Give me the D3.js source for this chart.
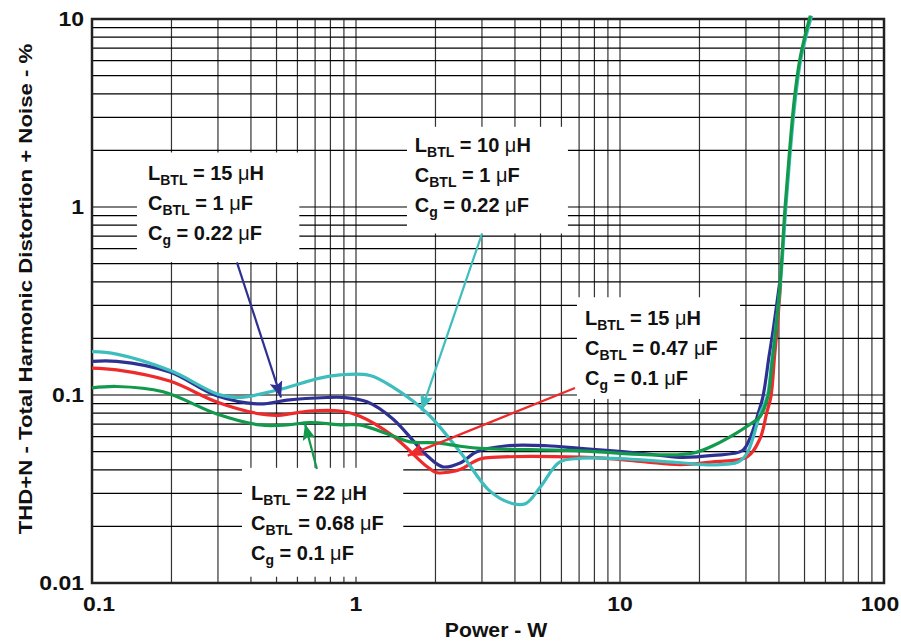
<!DOCTYPE html>
<html>
<head>
<meta charset="utf-8">
<script src="https://cdn.jsdelivr.net/npm/d3@7"></script>
<style>
  body { margin: 0; background: #fff; }
  text { font-family: "Liberation Sans", Arial, sans-serif; font-weight: bold; fill: #111; }
</style>
</head>
<body>
<div id="chart"></div>
<script>
var width = 901;
var height = 643;

// tick labels
var xTicks = [0.1, 1, 10, 100];
var xTickLabels = ["0.1", "1", "10", "100"];
var yTicks = [0.01, 0.1, 1, 10];
var yTickLabels = ["0.01", "0.1", "1", "10"];

// THD+N (%) vs power (W)
var thdRed = [[0.1,0.139],[0.124,0.136],[0.197,0.1186],[0.297,0.0918],[0.433,0.0793],[0.51,0.078],[0.67,0.0822],[0.87,0.0822],[1.03,0.0774],[1.38,0.0606],[1.86,0.0415],[2.03,0.0386],[2.27,0.039],[2.48,0.0402],[2.95,0.0457],[3.42,0.0467],[7.05,0.0467],[9.4,0.0457],[12.5,0.0441],[16.9,0.0426],[22.5,0.0441],[30.3,0.0469],[33.9,0.0585],[36.0,0.081],[37.3,0.098],[38.5,0.161],[39.3,0.22],[40.6,0.39]];
var thdBlue = [[0.1,0.151],[0.124,0.151],[0.197,0.1325],[0.297,0.099],[0.433,0.0896],[0.548,0.094],[0.776,0.097],[0.893,0.097],[1.10,0.092],[1.38,0.0746],[1.86,0.0475],[2.13,0.0415],[2.48,0.0435],[2.87,0.0499],[3.73,0.0537],[5.29,0.0537],[7.05,0.052],[9.4,0.0505],[12.5,0.0487],[16.9,0.0466],[22.5,0.0477],[29.0,0.0505],[31.0,0.0585],[33.4,0.08],[34.8,0.098],[36.7,0.161],[38.0,0.22],[40.2,0.39]];
var thdGreen = [[0.1,0.109],[0.124,0.111],[0.186,0.104],[0.297,0.0793],[0.433,0.0693],[0.548,0.0693],[0.67,0.0714],[0.89,0.0693],[1.03,0.0693],[1.38,0.0606],[1.6,0.0563],[2.03,0.0556],[2.48,0.0534],[2.95,0.052],[7.05,0.0505],[12.5,0.0482],[16.9,0.0482],[19.6,0.0497],[22.5,0.0537],[26.8,0.0612],[31.0,0.0697],[33.9,0.0767],[36.3,0.0976],[37.7,0.148],[38.9,0.22],[40.4,0.39],[42.2,1.0],[43.9,2.0],[45.7,3.7],[47.9,6.0],[50.4,8.3],[52.6,10.4]];
var thdCyan = [[0.1,0.170],[0.124,0.165],[0.2,0.134],[0.3,0.101],[0.36,0.097],[0.5,0.106],[0.73,0.123],[0.87,0.128],[1.13,0.127],[1.38,0.110],[1.86,0.080],[2.5,0.049],[3.2,0.031],[3.9,0.0265],[4.4,0.0265],[5.0,0.0325],[5.9,0.044],[7.0,0.046],[9.4,0.046],[17,0.0436],[22.5,0.0425],[28,0.044],[30.3,0.049],[34,0.080],[36.1,0.098],[37.5,0.148],[38.8,0.22],[40.5,0.39],[42.5,1.0],[44.2,2.0],[46.1,3.7],[48.3,6.0],[50.9,8.3],[53.2,10.4]];

// annotations: box [x0, x1, y0, y1], text anchor, arrow [tail, tip] in data units
var notes = [
  { color: "#2e3192", box: [0.148, 0.61, 1.95, 0.51], at: [0.163, 1.40],
    lines: [["L", "BTL", " = 15 ", "H"], ["C", "BTL", " = 1 ", "F"], ["C", "g", " = 0.22 ", "F"]],
    arrow: [[0.354, 0.508], [0.52, 0.097]] },
  { color: "#3dbdbd", box: [1.56, 6.35, 2.67, 0.723], at: [1.67, 1.95],
    lines: [["L", "BTL", " = 10 ", "H"], ["C", "BTL", " = 1 ", "F"], ["C", "g", " = 0.22 ", "F"]],
    arrow: [[3.0, 0.72], [1.77, 0.0826]] },
  { color: "#ee2a2a", box: [6.87, 28.5, 0.331, 0.0953], at: [7.37, 0.236],
    lines: [["L", "BTL", " = 15 ", "H"], ["C", "BTL", " = 0.47 ", "F"], ["C", "g", " = 0.1 ", "F"]],
    arrow: [[6.75, 0.109], [1.57, 0.0476]] },
  { color: "#12994c", box: [0.37, 1.51, 0.041, 0.0108], at: [0.40, 0.0277],
    lines: [["L", "BTL", " = 22 ", "H"], ["C", "BTL", " = 0.68 ", "F"], ["C", "g", " = 0.1 ", "F"]],
    arrow: [[0.711, 0.0404], [0.641, 0.0702]] }
];

var svg = d3.select("#chart")
  .append("svg")
  .attr("width", width)
  .attr("height", height)

var x = d3.scaleLog().domain([0.1, 100]).range([92, 884]);
var y = d3.scaleLog().domain([0.01, 10]).range([583, 19]);

// grid values: 1..9 in each decade
function gridVals(lo, hi) {
  var out = [];
  for (var p = lo; p < hi; p *= 10) {
    for (var k = 1; k < 10; k++) out.push(p * k);
  }
  out.push(hi);
  return out;
}

svg.append("g")
  .selectAll("line")
  .data(gridVals(0.1, 100))
  .join("line")
    .attr("x1", d => x(d)).attr("x2", d => x(d))
    .attr("y1", y(10)).attr("y2", y(0.01))
    .attr("stroke", "#333")
    .attr("stroke-width", 1.2)

svg.append("g")
  .selectAll("line")
  .data(gridVals(0.01, 10))
  .join("line")
    .attr("x1", x(0.1)).attr("x2", x(100))
    .attr("y1", d => y(d)).attr("y2", d => y(d))
    .attr("stroke", "#000")
    .attr("stroke-width", 1.2)

// white label boxes hide the grid
svg.append("g")
  .selectAll("rect")
  .data(notes)
  .join("rect")
    .attr("x", d => x(d.box[0]))
    .attr("y", d => y(d.box[2]))
    .attr("width", d => x(d.box[1]) - x(d.box[0]))
    .attr("height", d => y(d.box[3]) - y(d.box[2]))
    .attr("fill", "#fff")

// frame
svg.append("rect")
  .attr("x", x(0.1)).attr("y", y(10))
  .attr("width", x(100) - x(0.1))
  .attr("height", y(0.01) - y(10))
  .attr("fill", "none")
  .attr("stroke", "#222")
  .attr("stroke-width", 2.5)

// curves
var line = d3.line()
  .x(d => x(d[0]))
  .y(d => y(d[1]))
  .curve(d3.curveCatmullRom.alpha(0.5))

var series = [
  { data: thdRed, color: "#ee2a2a" },
  { data: thdBlue, color: "#2e3192" },
  { data: thdCyan, color: "#3dbdbd" },
  { data: thdGreen, color: "#12994c" }
];

svg.append("g")
  .selectAll("path")
  .data(series)
  .join("path")
    .attr("d", d => line(d.data))
    .attr("fill", "none")
    .attr("stroke", d => d.color)
    .attr("stroke-width", 3.2)
    .attr("stroke-linejoin", "round")

// arrows
var defs = svg.append("defs");
notes.forEach(function(n, i) {
  defs.append("marker")
    .attr("id", "head" + i)
    .attr("markerUnits", "userSpaceOnUse")
    .attr("markerWidth", 17).attr("markerHeight", 13)
    .attr("refX", 16).attr("refY", 6.5)
    .attr("orient", "auto")
    .append("path")
      .attr("d", "M0,0 L16,6.5 L0,13 L3,6.5 z")
      .attr("fill", n.color)
});

svg.append("g")
  .selectAll("line")
  .data(notes)
  .join("line")
    .attr("x1", d => x(d.arrow[0][0])).attr("y1", d => y(d.arrow[0][1]))
    .attr("x2", d => x(d.arrow[1][0])).attr("y2", d => y(d.arrow[1][1]))
    .attr("stroke", d => d.color)
    .attr("stroke-width", 2.2)
    .attr("marker-end", (d, i) => "url(#head" + i + ")")

// annotation text
notes.forEach(function(n) {
  var t = svg.append("g")
    .attr("transform", "translate(" + x(n.at[0]) + "," + y(n.at[1]) + ")");
  n.lines.forEach(function(l, j) {
    var txt = t.append("text")
      .attr("y", j * 30)
      .style("font-size", "20px");
    txt.append("tspan").text(l[0]);
    txt.append("tspan").attr("dy", 5).style("font-size", "14px").text(l[1]);
    txt.append("tspan").attr("dy", -5).text(l[2]);
    txt.append("tspan").style("font-weight", "normal").text("\u03bc");
    txt.append("tspan").text(l[3]);
  });
});

// tick labels (the original type is a little wider than Arial)
svg.append("g")
  .selectAll("text")
  .data(xTicks)
  .join("text")
    .attr("transform", (d, i) => "translate(" + (x(d) + (i == 0 ? 7 : (i == 3 ? -4 : 0))) + ",611) scale(1.15,1)")
    .attr("text-anchor", "middle")
    .style("font-size", "20px")
    .text((d, i) => xTickLabels[i])

svg.append("g")
  .selectAll("text")
  .data(yTicks)
  .join("text")
    .attr("transform", d => "translate(84," + y(d) + ") scale(1.15,1)")
    .attr("dy", "0.36em")
    .attr("text-anchor", "end")
    .style("font-size", "20px")
    .text((d, i) => yTickLabels[i])

// axis titles
svg.append("text")
  .attr("transform", "translate(496,637) scale(1.06,1)")
  .attr("text-anchor", "middle")
  .style("font-size", "20px")
  .text("Power - W")

svg.append("text")
  .attr("transform", "translate(32,289) rotate(-90) scale(1.17,1)")
  .attr("text-anchor", "middle")
  .style("font-size", "19px")
  .text("THD+N - Total Harmonic Distortion + Noise - %")
</script>
</body>
</html>
